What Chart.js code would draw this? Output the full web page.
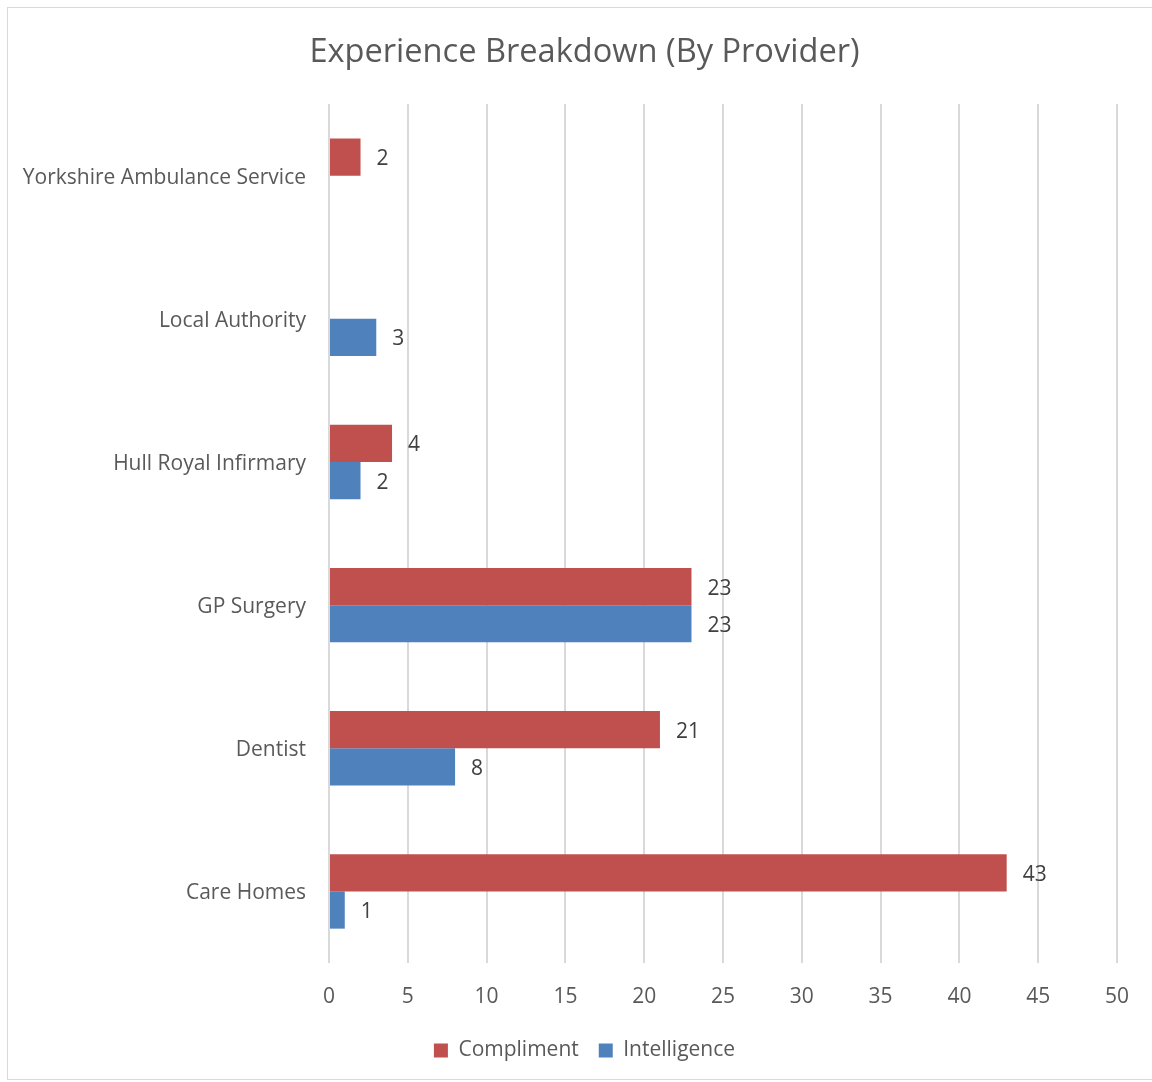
<!DOCTYPE html>
<html>
<head>
<meta charset="utf-8">
<script src="https://cdn.jsdelivr.net/npm/chart.js@4"></script>
<style>
  body { margin: 0; background: #fff; }
  #wrap { position: relative; width: 1152px; height: 1082px; overflow: hidden; }
  #frame { position: absolute; left: 7px; top: 7px; width: 1160px; height: 1071px; border: 1.5px solid #d9d9d9; pointer-events: none; }
  canvas { position: absolute; left: 0; top: 0; }
</style>
</head>
<body>
<div id="wrap">
  <canvas id="chartCanvas" width="1152" height="1082"></canvas>
  <div id="frame"></div>
</div>
<script>
// Datos del gráfico
const providers = ['Yorkshire Ambulance Service', 'Local Authority', 'Hull Royal Infirmary', 'GP Surgery', 'Dentist', 'Care Homes'];
const compliment = [2, null, 4, 23, 21, 43];
const intelligence = [null, 3, 2, 23, 8, 1];
const xTicks = [0, 5, 10, 15, 20, 25, 30, 35, 40, 45, 50];

const fontFamily = '"Open Sans", "Liberation Sans", sans-serif';
const textColor = '#595959';

// etiquetas de valor al final de cada barra
const valueLabels = {
    id: 'valueLabels',
    afterDatasetsDraw(chart) {
        const c = chart.ctx;
        c.save();
        c.font = '21px ' + fontFamily;
        c.fillStyle = '#404040';
        c.textAlign = 'left';
        c.textBaseline = 'middle';
        chart.data.datasets.forEach((ds, i) => {
            chart.getDatasetMeta(i).data.forEach((bar, j) => {
                if (ds.data[j] == null) return;
                c.fillText(ds.data[j], bar.x + 16, bar.y + 2);
            });
        });
        c.restore();
    }
};

const ctx = document.getElementById('chartCanvas').getContext('2d');
new Chart(ctx, {
    type: 'bar',
    data: {
        labels: providers,
        datasets: [{
            label: 'Compliment',
            data: compliment,
            backgroundColor: '#C0504D'
        }, {
            label: 'Intelligence',
            data: intelligence,
            backgroundColor: '#4F81BD'
        }]
    },
    options: {
        indexAxis: 'y',
        responsive: false,
        animation: false,
        layout: { padding: { left: 17, right: 0, top: 0, bottom: 11 } },
        datasets: {
            bar: { barPercentage: 1, categoryPercentage: 0.52 }
        },
        plugins: {
            title: {
                display: true,
                text: 'Experience Breakdown (By Provider)',
                color: textColor,
                font: { family: fontFamily, size: 32.6, weight: 'normal' },
                padding: { top: 33, bottom: 32 }
            },
            legend: {
                position: 'bottom',
                labels: {
                    color: textColor,
                    font: { family: fontFamily, size: 21 },
                    boxWidth: 14,
                    boxHeight: 14,
                    padding: 20
                }
            },
            tooltip: { enabled: false }
        },
        scales: {
            x: {
                min: 0,
                max: 50,
                afterBuildTicks: (scale) => { scale.ticks = xTicks.map(v => ({ value: v })); },
                grid: { color: '#d9d9d9', lineWidth: 2, drawTicks: false },
                border: { display: false },
                ticks: { color: textColor, font: { family: fontFamily, size: 21 }, padding: 21 },
                afterFit: (scale) => { scale.height = 57; }
            },
            y: {
                grid: { display: false, drawTicks: false },
                border: { display: false },
                ticks: { color: textColor, font: { family: fontFamily, size: 21 }, padding: 23, labelOffset: 2 },
                afterFit: (scale) => { scale.width = 312; }
            },
            // eje vacío a la derecha, solo para dejar margen
            yRight: {
                type: 'linear',
                position: 'right',
                grid: { display: false, drawTicks: false },
                border: { display: false },
                ticks: { display: false },
                afterFit: (scale) => { scale.width = 35; }
            }
        }
    },
    plugins: [valueLabels]
});
</script>
</body>
</html>
